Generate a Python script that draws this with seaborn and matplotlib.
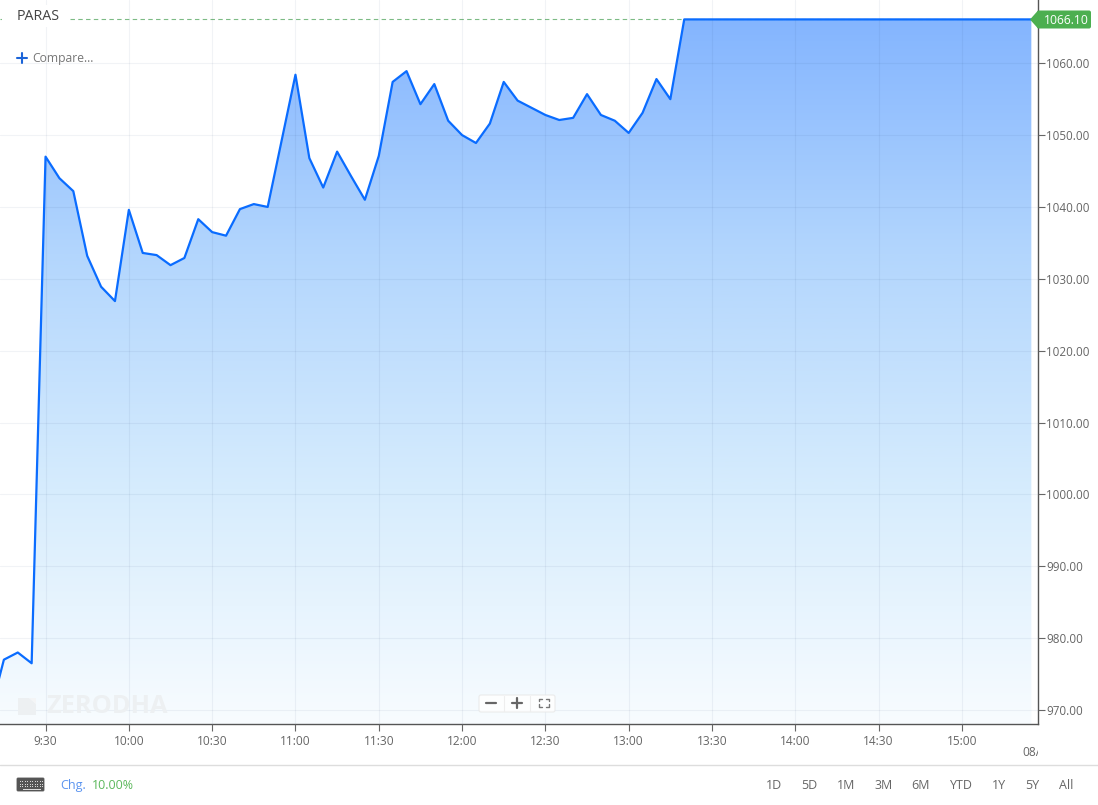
import numpy as np
import matplotlib
matplotlib.use('Agg')
import matplotlib.pyplot as plt
from matplotlib.colors import LinearSegmentedColormap
from matplotlib.patches import Polygon, Rectangle, FancyBboxPatch
import seaborn as sns

sns.set_theme(style='white')
plt.rcParams['font.family'] = ['Open Sans', 'DejaVu Sans']

# minutes since midnight, one quote every 5 minutes
minutes = np.arange(550, 930, 5)
prices = [
    969.5, 977.0, 978.0, 976.5, 1047.0, 1044.0, 1042.2, 1033.2, 1028.9, 1026.9,
    1039.6, 1033.6, 1033.3, 1031.9, 1032.9, 1038.3, 1036.5, 1036.0, 1039.7, 1040.4,
    1040.0, 1049.2, 1058.4, 1046.8, 1042.7, 1047.7, 1044.3, 1041.0, 1047.1, 1057.4,
    1058.9, 1054.3, 1057.1, 1052.0, 1050.0, 1048.9, 1051.6, 1057.4, 1054.8, 1053.8,
    1052.8, 1052.1, 1052.4, 1055.7, 1052.8, 1052.0, 1050.3, 1053.1, 1057.8, 1055.0,
    1066.1, 1066.1, 1066.1, 1066.1, 1066.1, 1066.1, 1066.1, 1066.1, 1066.1, 1066.1,
    1066.1, 1066.1, 1066.1, 1066.1, 1066.1, 1066.1, 1066.1, 1066.1, 1066.1, 1066.1,
    1066.1, 1066.1, 1066.1, 1066.1, 1066.1, 1066.1,
]
x_ticks = [570, 600, 630, 660, 690, 720, 750, 780, 810, 840, 870, 900]
x_labels = ['9:30', '10:00', '10:30', '11:00', '11:30', '12:00', '12:30', '13:00',
            '13:30', '14:00', '14:30', '15:00']
y_ticks = [970, 980, 990, 1000, 1010, 1020, 1030, 1040, 1050, 1060]
last_price = 1066.10
ranges = ['1D', '5D', '1M', '3M', '6M', 'YTD', '1Y', '5Y', 'All']
range_px = [774, 809, 846, 883.5, 921, 961, 999, 1032.5, 1066]

W, H = 1098, 805
GREY = '#666666'

fig = plt.figure(figsize=(W / 100, H / 100), dpi=100, facecolor='white')
ax = fig.add_axes([0, (H - 724) / H, 1038 / W, 724 / H])

xlim = (553.6, 927.4)
ylim = (968.05, 1068.8)

# gradient area under the line
cmap = LinearSegmentedColormap.from_list('area', ['#84b5ff', '#b3d6fd', '#d6ecfd', '#f8fcff'])
grad = np.linspace(0, 1, 256).reshape(-1, 1)
im = ax.imshow(grad, extent=(xlim[0], 925, ylim[0], last_price), aspect='auto', cmap=cmap,
               origin='upper', zorder=1)
area = ax.fill_between(minutes, prices, ylim[0], facecolor='none', edgecolor='none')
im.set_clip_path(area.get_paths()[0], ax.transData)

sns.lineplot(x=minutes, y=prices, ax=ax, color='#0a6cff', linewidth=1.6, errorbar=None, zorder=3)
ax.axhline(last_price, color='#7dbb85', lw=0.8, dashes=(4, 3), zorder=2)

ax.set_xlim(*xlim)
ax.set_ylim(*ylim)
ax.set_xlabel('')
ax.set_ylabel('')
ax.set_facecolor('none')
ax.set_xticks(x_ticks, x_labels)
ax.yaxis.tick_right()
ax.set_yticks(y_ticks, [f'{v:.2f}' for v in y_ticks], va='center_baseline')
ax.tick_params(axis='x', length=5, width=0.8, color=GREY, labelsize=8.6, labelcolor=GREY, pad=3, bottom=True)
ax.tick_params(axis='y', length=5, width=0.8, color=GREY, labelsize=8.4, labelcolor=GREY, pad=0.9,
               right=True, left=False)
ax.grid(True, color='#1a3366', alpha=0.06, lw=0.8, zorder=2)
ax.set_axisbelow(False)
for s in ['top', 'left']:
    ax.spines[s].set_visible(False)
for s in ['right', 'bottom']:
    ax.spines[s].set_visible(True)
    ax.spines[s].set_color('#555555')
    ax.spines[s].set_linewidth(1.0)

# page furniture, in pixel coordinates
ui = fig.add_axes([0, 0, 1, 1], facecolor='none')
ui.set_xlim(0, W)
ui.set_ylim(H, 0)
ui.axis('off')

ui.add_patch(Rectangle((2, 5), 67, 22, fc='white', ec='none'))
ui.text(17, 16.8, 'PARAS', fontsize=10.3, color='#444444', va='center')
ui.plot([17, 27], [58, 58], color='#1b64d8', lw=1.5)
ui.plot([22, 22], [53, 63], color='#1b64d8', lw=1.5)
ui.text(32.5, 58.3, 'Compare...', fontsize=8.7, color='#777777', va='center')

# last price tag
ui.add_patch(FancyBboxPatch((1037, 10.5), 54, 18, boxstyle='round,pad=0,rounding_size=2',
                            fc='#4caf50', ec='none'))
ui.add_patch(Polygon([(1030, 19.5), (1038, 10.5), (1038, 28.5)], closed=True, fc='#4caf50', ec='none'))
ui.text(1066, 20, f'{last_price:.2f}', fontsize=8.7, color='white', ha='center', va='center')

# watermark
ui.add_patch(Polygon([(18, 698), (29, 698), (36, 704), (36, 715), (18, 715)],
                     closed=True, fc='#edf0f2', ec='none'))
ui.add_patch(Polygon([(29, 698), (36, 698), (36, 704)], closed=True, fc='#f4f5f6', ec='none'))
ui.text(46, 706, 'ZERODHA', fontsize=18.3, fontweight='bold', color='#edf0f2', va='center')

# zoom buttons
ui.add_patch(FancyBboxPatch((479, 695), 76, 17, boxstyle='round,pad=0,rounding_size=2',
                            fc='white', ec='#e8e8e8', lw=0.8, alpha=0.85))
ui.plot([504, 504], [696, 711], color='#eeeeee', lw=0.8)
ui.plot([530, 530], [696, 711], color='#eeeeee', lw=0.8)
ui.plot([486, 496], [702.5, 702.5], color='#666666', lw=1.6)
ui.plot([512, 522], [702.5, 702.5], color='#666666', lw=1.6)
ui.plot([517, 517], [697.5, 707.5], color='#666666', lw=1.6)
for cx, cy, dx, dy in [(539, 698.5, 1, 1), (549, 698.5, -1, 1), (539, 706.5, 1, -1), (549, 706.5, -1, -1)]:
    ui.plot([cx + 3 * dx, cx, cx], [cy, cy, cy + 2.5 * dy], color='#777777', lw=1)

# date label cut off by the end of the axis
ui.text(1022, 752.5, '08/05', fontsize=8.6, color=GREY, va='center')
ui.add_patch(Rectangle((1038, 742), 40, 20, fc='white', ec='none', zorder=5))

# footer
ui.plot([0, W], [764.5, 764.5], color='#dddddd', lw=1)
ui.add_patch(FancyBboxPatch((17, 778), 27, 13, boxstyle='round,pad=0,rounding_size=1',
                            fc='#555555', ec='#555555', lw=0.6))
for y in [780.5, 783.5, 786]:
    for kx in np.arange(19.5, 42.5, 2.5):
        ui.add_patch(Rectangle((kx, y), 1.4, 1.4, fc='#d8d8d8', ec='none'))
ui.add_patch(Rectangle((23, 788.8), 18, 1, fc='#d8d8d8', ec='none'))
ui.text(60.5, 785, 'Chg.', fontsize=9, color='#5b94f0', va='center')
ui.text(92, 785, '10.00%', fontsize=8.9, color='#5cb85c', va='center')
for label, px in zip(ranges, range_px):
    ui.text(px, 785, label, fontsize=9, color=GREY, ha='center', va='center')

fig.savefig('out.png', dpi=100)
